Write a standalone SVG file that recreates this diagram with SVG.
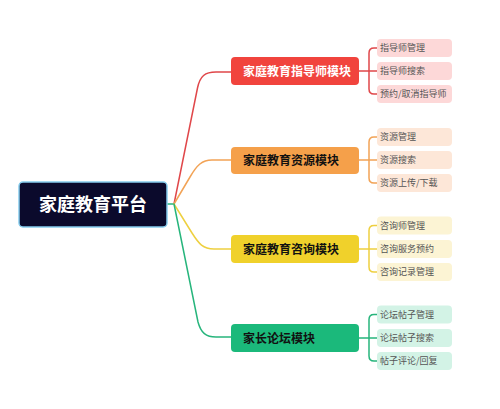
<svg xmlns="http://www.w3.org/2000/svg" width="500" height="409" viewBox="0 0 500 409">
<style>
.root{fill:#0b0a2c;stroke:#86cdee;stroke-width:1.5}
.rt{font-family:"Noto Sans CJK SC","Liberation Sans",sans-serif;font-size:18px;font-weight:bold;fill:#ffffff}
.mt{font-family:"Noto Sans CJK SC","Liberation Sans",sans-serif;font-size:12px;font-weight:bold}
.ct{font-family:"Noto Sans CJK SC","Liberation Sans",sans-serif;font-size:9px;fill:#555555}
.ln{fill:none;stroke-width:1.5;stroke-linecap:round}
</style>
<rect width="500" height="409" fill="#ffffff"/>
<g id="connectors">
  <path class="ln" stroke="#27b57c" d="M167,204 L174,204"/>
  <path class="ln" stroke="#e0474a" d="M174,204 L197.5,88 C200,76 205,72 216,72 L232,72"/>
  <path class="ln" stroke="#f2a356" d="M174,204 L190,177 C197,165 202,160 212,160 L232,160"/>
  <path class="ln" stroke="#eed040" d="M174,204 L192,233 C199,244 203,249 214,249 L232,249"/>
  <path class="ln" stroke="#27b57c" d="M174,204 L198,322 C201,333 206,337 216,337 L232,337"/>
  <path class="ln" stroke="#e0474a" d="M359,71 L369,71 M377,48 L374,48 Q369,48 369,53 L369,89 Q369,94 374,94 L377,94 M369,71 L377,71"/>
  <path class="ln" stroke="#f2a356" d="M359,160 L369,160 M377,137 L374,137 Q369,137 369,142 L369,178 Q369,183 374,183 L377,183 M369,160 L377,160"/>
  <path class="ln" stroke="#eed040" d="M359,249 L369,249 M377,225.5 L374,225.5 Q369,225.5 369,230.5 L369,267 Q369,272 374,272 L377,272 M369,249 L377,249"/>
  <path class="ln" stroke="#27b57c" d="M359,338 L369,338 M377,314.5 L374,314.5 Q369,314.5 369,319.5 L369,356 Q369,361 374,361 L377,361 M369,338 L377,338"/>
</g>
<g id="root">
  <rect class="root" x="19" y="182" width="148" height="45" rx="4"/>
  <text class="rt" x="93" y="211" text-anchor="middle">家庭教育平台</text>
</g>
<g id="m1">
  <rect x="231" y="57" width="128" height="28" rx="4" fill="#f1443d"/>
  <text class="mt" x="243" y="75.5" fill="#ffffff">家庭教育指导师模块</text>
</g>
<g id="m1c1"><rect x="377" y="39" width="75" height="18" rx="4" fill="#fdd8d8"/><text class="ct" x="380" y="51.3">指导师管理</text></g>
<g id="m1c2"><rect x="377" y="62" width="75" height="18" rx="4" fill="#fdd8d8"/><text class="ct" x="380" y="74.3">指导师搜索</text></g>
<g id="m1c3"><rect x="377" y="85" width="75" height="18" rx="4" fill="#fdd8d8"/><text class="ct" x="380" y="97.3">预约/取消指导师</text></g>
<g id="m2">
  <rect x="231" y="147" width="128" height="27" rx="4" fill="#f5a04a"/>
  <text class="mt" x="243" y="165" fill="#111111">家庭教育资源模块</text>
</g>
<g id="m2c1"><rect x="377" y="128" width="75" height="18" rx="4" fill="#fde7d8"/><text class="ct" x="380" y="140.3">资源管理</text></g>
<g id="m2c2"><rect x="377" y="151" width="75" height="18" rx="4" fill="#fde7d8"/><text class="ct" x="380" y="163.3">资源搜索</text></g>
<g id="m2c3"><rect x="377" y="174" width="75" height="18" rx="4" fill="#fde7d8"/><text class="ct" x="380" y="186.3">资源上传/下载</text></g>
<g id="m3">
  <rect x="231" y="235" width="128" height="28" rx="4" fill="#f0d12b"/>
  <text class="mt" x="243" y="253.5" fill="#111111">家庭教育咨询模块</text>
</g>
<g id="m3c1"><rect x="377" y="216.5" width="75" height="18" rx="4" fill="#fcf4d4"/><text class="ct" x="380" y="228.8">咨询师管理</text></g>
<g id="m3c2"><rect x="377" y="240" width="75" height="18" rx="4" fill="#fcf4d4"/><text class="ct" x="380" y="252.3">咨询服务预约</text></g>
<g id="m3c3"><rect x="377" y="263" width="75" height="18" rx="4" fill="#fcf4d4"/><text class="ct" x="380" y="275.3">咨询记录管理</text></g>
<g id="m4">
  <rect x="231" y="324" width="128" height="28" rx="4" fill="#1bb97b"/>
  <text class="mt" x="243" y="342.5" fill="#111111">家长论坛模块</text>
</g>
<g id="m4c1"><rect x="377" y="305.5" width="75" height="18" rx="4" fill="#d3f3e6"/><text class="ct" x="380" y="317.8">论坛帖子管理</text></g>
<g id="m4c2"><rect x="377" y="329" width="75" height="18" rx="4" fill="#d3f3e6"/><text class="ct" x="380" y="341.3">论坛帖子搜索</text></g>
<g id="m4c3"><rect x="377" y="352" width="75" height="18" rx="4" fill="#d3f3e6"/><text class="ct" x="380" y="364.3">帖子评论/回复</text></g>
</svg>
